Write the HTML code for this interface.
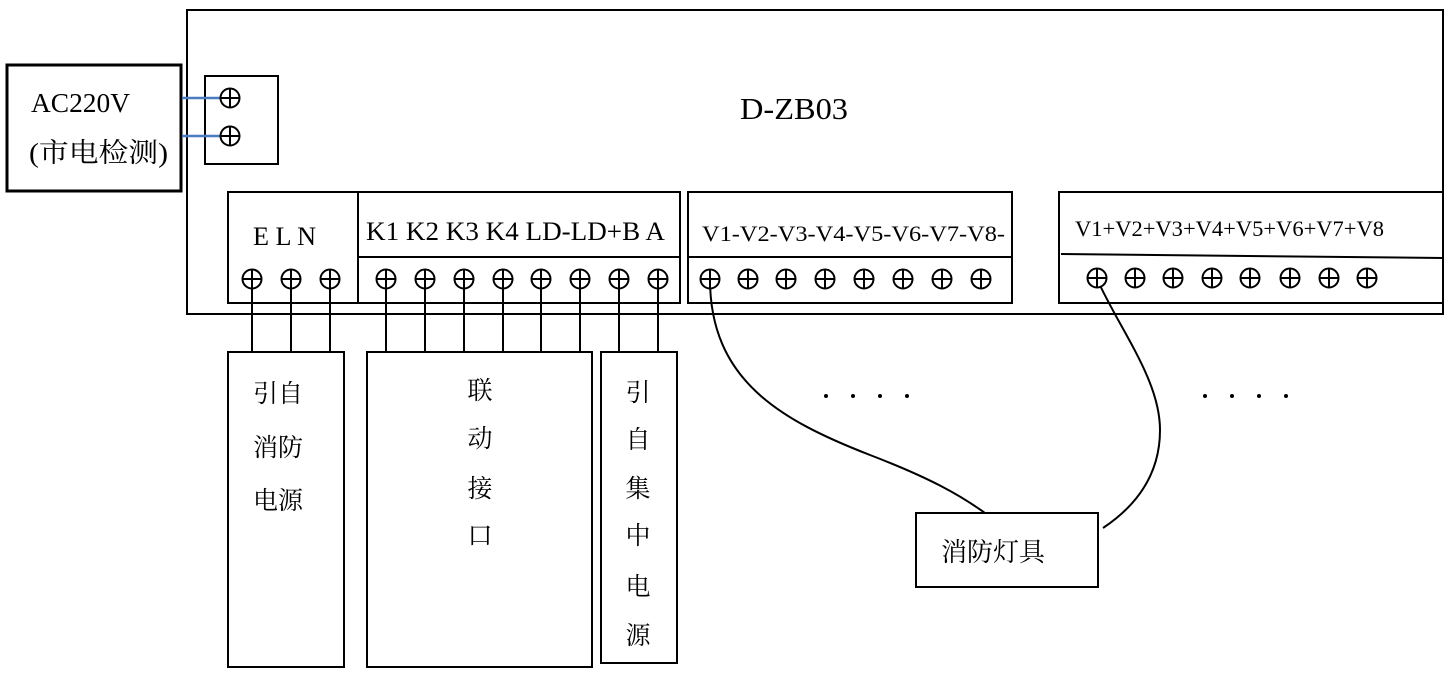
<!DOCTYPE html>
<html><head><meta charset="utf-8"><style>
html,body{margin:0;padding:0;background:#fff;}
svg text{font-family:"Liberation Serif","Noto Serif CJK SC","Noto Sans CJK SC",serif;fill:#000;}
</style></head><body>
<svg width="1446" height="672" viewBox="0 0 1446 672" xmlns="http://www.w3.org/2000/svg">
<defs>
<g id="t"><circle r="9.5" fill="#fff" stroke="#000" stroke-width="2"/><line x1="-9.5" y1="0" x2="9.5" y2="0" stroke="#000" stroke-width="2"/><line x1="0" y1="-9.5" x2="0" y2="9.5" stroke="#000" stroke-width="2"/></g>
</defs>
<g fill="none" stroke="#000" stroke-width="2">
<rect x="187" y="10" width="1256" height="304"/>
<rect x="7" y="65" width="174" height="126" stroke-width="3"/>
<rect x="205" y="76" width="73" height="88"/>
<rect x="228" y="192" width="130" height="111"/>
<rect x="358" y="192" width="322" height="111"/>
<line x1="358" y1="257" x2="680" y2="257"/>
<rect x="688" y="192" width="324" height="111"/>
<line x1="688" y1="257" x2="1012" y2="257"/>
<rect x="1059" y="192" width="384" height="111"/>
<line x1="1061" y1="254" x2="1443" y2="258"/>
<rect x="228" y="352" width="116" height="315"/>
<rect x="367" y="352" width="225" height="315"/>
<rect x="601" y="352" width="76" height="311"/>
<rect x="916" y="513" width="182" height="74"/>
</g>
<g stroke="#4a7cc0" stroke-width="2.5"><line x1="182" y1="98" x2="222" y2="98"/><line x1="182" y1="136" x2="222" y2="136"/></g>
<g stroke="#000" stroke-width="2">
<line x1="252" y1="279" x2="252" y2="352"/><line x1="291" y1="279" x2="291" y2="352"/><line x1="330" y1="279" x2="330" y2="352"/>
<line x1="386" y1="279" x2="386" y2="352"/><line x1="425" y1="279" x2="425" y2="352"/><line x1="464" y1="279" x2="464" y2="352"/><line x1="503" y1="279" x2="503" y2="352"/><line x1="541" y1="279" x2="541" y2="352"/><line x1="580" y1="279" x2="580" y2="352"/><line x1="619" y1="279" x2="619" y2="352"/><line x1="658" y1="279" x2="658" y2="352"/>
</g>
<g fill="none" stroke="#000" stroke-width="2">
<path d="M710 279 C 710 380, 780 420, 870 455 C 930 478, 960 495, 985 513"/>
<path d="M1097 279 C 1120 330, 1160 380, 1160 430 C 1160 480, 1130 510, 1103 528"/>
</g>
<use href="#t" x="230" y="98"/><use href="#t" x="230" y="136"/>
<use href="#t" x="252" y="279"/><use href="#t" x="291" y="279"/><use href="#t" x="330" y="279"/>
<use href="#t" x="386" y="279"/><use href="#t" x="425" y="279"/><use href="#t" x="464" y="279"/><use href="#t" x="503" y="279"/><use href="#t" x="541" y="279"/><use href="#t" x="580" y="279"/><use href="#t" x="619" y="279"/><use href="#t" x="658" y="279"/>
<use href="#t" x="710" y="279"/><use href="#t" x="748" y="279"/><use href="#t" x="786" y="279"/><use href="#t" x="825" y="279"/><use href="#t" x="864" y="279"/><use href="#t" x="903" y="279"/><use href="#t" x="942" y="279"/><use href="#t" x="981" y="279"/>
<use href="#t" x="1097" y="278"/><use href="#t" x="1135" y="278"/><use href="#t" x="1173" y="278"/><use href="#t" x="1212" y="278"/><use href="#t" x="1250" y="278"/><use href="#t" x="1290" y="278"/><use href="#t" x="1329" y="278"/><use href="#t" x="1367" y="278"/>
<text x="31" y="112" font-size="27" textLength="99" lengthAdjust="spacingAndGlyphs">AC220V</text>
<text x="29" y="162" font-size="27" textLength="139" lengthAdjust="spacingAndGlyphs">(市电检测)</text>
<text x="740" y="119" font-size="31" textLength="108" lengthAdjust="spacingAndGlyphs">D-ZB03</text>
<text x="253" y="245" font-size="26" textLength="63" lengthAdjust="spacingAndGlyphs">E L N</text>
<text x="366" y="240" font-size="26" textLength="299" lengthAdjust="spacingAndGlyphs">K1 K2 K3 K4 LD-LD+B A</text>
<text x="702" y="241" font-size="22" textLength="303" lengthAdjust="spacingAndGlyphs">V1-V2-V3-V4-V5-V6-V7-V8-</text>
<text x="1075" y="236" font-size="22" textLength="309" lengthAdjust="spacingAndGlyphs">V1+V2+V3+V4+V5+V6+V7+V8</text>
<g font-size="25" text-anchor="middle">
<text x="278" y="402" textLength="50" lengthAdjust="spacingAndGlyphs">引自</text><text x="278" y="456" textLength="50" lengthAdjust="spacingAndGlyphs">消防</text><text x="278" y="509" textLength="50" lengthAdjust="spacingAndGlyphs">电源</text>
<text x="480" y="399">联</text><text x="480" y="447">动</text><text x="480" y="497">接</text><text x="480" y="544">口</text>
<text x="638" y="401">引</text><text x="638" y="448">自</text><text x="638" y="497">集</text><text x="638" y="544">中</text><text x="638" y="595">电</text><text x="638" y="644">源</text>
</g>
<text x="941" y="561" font-size="26" textLength="104" lengthAdjust="spacingAndGlyphs">消防灯具</text>
<g fill="#000"><circle cx="826" cy="396" r="2"/><circle cx="853" cy="396" r="2"/><circle cx="880" cy="396" r="2"/><circle cx="907" cy="396" r="2"/>
<circle cx="1205" cy="396" r="2"/><circle cx="1232" cy="396" r="2"/><circle cx="1259" cy="396" r="2"/><circle cx="1286" cy="396" r="2"/></g>
</svg>
</body></html>
